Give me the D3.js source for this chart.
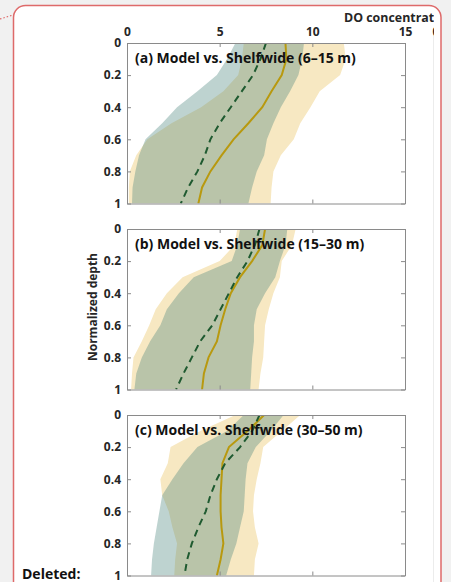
<!DOCTYPE html>
<html><head><meta charset="utf-8">
<script src="https://cdn.jsdelivr.net/npm/d3@7"></script>
<style>
html,body{margin:0;padding:0;background:#f1f1f1;}
svg{display:block;}
text{font-family:"Open Sans","Noto Sans",sans-serif;font-weight:700;}
</style></head><body>
<script>
// ---------- data ----------
const depth = [0,0.1,0.2,0.3,0.4,0.5,0.6,0.7,0.8,0.9,1.0];
const xTicks = [0,5,10,15];
const yTicks = [0,0.2,0.4,0.6,0.8,1];
const yTickLabels = ["0","0.2","0.4","0.6","0.8","1"];
const panelTitles = ["(a) Model vs. Shelfwide (6\u201315 m)","(b) Model vs. Shelfwide (15\u201330 m)","(c) Model vs. Shelfwide (30\u201350 m)"];

// panel (a)
const shelfMeanA = [7.5,7.2,6.8,6.2,5.6,5.0,4.5,4.2,3.8,3.3,2.9];
const shelfLoA   = [5.85,5.4,4.85,3.8,2.7,1.9,1.0,0.65,0.45,0.3,0.27];
const shelfHiA   = [9.55,9.45,9.25,8.8,8.3,7.9,7.55,7.4,7.0,6.75,6.55];
const modelMeanA = [8.55,8.6,8.35,7.8,7.3,6.55,5.75,5.1,4.5,4.05,3.85];
const modelLoA   = [6.3,6.2,6.0,5.2,4.0,2.4,1.1,0.5,0.15,0.1,0.1];
const modelHiA   = [11.7,11.8,11.5,10.4,9.9,9.35,9.0,8.3,7.9,7.8,7.75];

// panel (b)
const shelfMeanB = [7.15,6.9,6.5,5.95,5.5,5.05,4.6,3.95,3.5,3.05,2.65];
const shelfLoB   = [6.1,5.95,5.65,3.6,2.8,2.15,1.8,1.25,0.8,0.5,0.4];
const shelfHiB   = [8.65,8.55,8.25,8.0,7.45,7.0,6.85,6.85,6.75,6.7,6.65];
const modelMeanB = [7.45,7.3,6.75,6.1,5.6,5.3,5.05,4.85,4.4,4.15,4.05];
const modelLoB   = [5.95,5.8,5.0,3.0,2.15,1.55,1.2,0.8,0.35,0.27,0.22];
const modelHiB   = [9.1,8.9,8.35,8.25,7.9,7.65,7.45,7.4,7.35,7.2,7.1];

// panel (c)
const shelfMeanC = [7.15,6.75,6.1,5.3,4.85,4.5,4.25,3.85,3.5,3.25,3.1];
const shelfLoC   = [6.3,5.4,3.8,3.05,2.45,1.9,1.75,1.6,1.45,1.35,1.3];
const shelfHiC   = [8.45,7.75,6.95,6.5,6.4,6.35,6.3,6.1,5.9,5.6,5.35];
const modelMeanC = [7.4,6.5,5.5,5.15,5.1,5.05,5.05,5.1,5.2,5.05,4.85];
const modelLoC   = [5.85,3.95,2.35,2.2,1.8,1.9,2.25,2.45,2.7,2.6,2.55];
const modelHiC   = [9.35,8.35,7.35,7.2,7.0,6.85,6.8,6.9,7.1,6.9,6.85];

const panels = [
  {title:panelTitles[0], sm:shelfMeanA, sl:shelfLoA, sh:shelfHiA, mm:modelMeanA, ml:modelLoA, mh:modelHiA},
  {title:panelTitles[1], sm:shelfMeanB, sl:shelfLoB, sh:shelfHiB, mm:modelMeanB, ml:modelLoB, mh:modelHiB},
  {title:panelTitles[2], sm:shelfMeanC, sl:shelfLoC, sh:shelfHiC, mm:modelMeanC, ml:modelLoC, mh:modelHiC}
];

// ---------- layout ----------
const W = 451, H = 582;
const plotL = 127, plotR = 405;
const panelTops = [43, 229, 415];
const panelH = 160.5;
const axisCol = "#8a8a8a", txtCol = "#262626";

const svg = d3.select("body").append("svg").attr("width",W).attr("height",H);

// comment box
svg.append("rect").attr("x",0).attr("y",0).attr("width",W).attr("height",H).attr("fill","#f1f1f1");
svg.append("rect").attr("x",13.5).attr("y",5.5).attr("width",427.5).attr("height",588)
  .attr("rx",12).attr("ry",12).attr("fill","#ffffff").attr("stroke","#de6a6a").attr("stroke-width",1.5);
svg.append("line").attr("x1",0).attr("y1",19).attr("x2",13).attr("y2",15)
  .attr("stroke","#de6a6a").attr("stroke-width",1.2).attr("stroke-dasharray","1.5,2");
svg.append("line").attr("x1",433.5).attr("x2",433.5).attr("y1",30).attr("y2",H)
  .attr("stroke","#ececec").attr("stroke-width",1);

const defs = svg.append("defs");
defs.append("clipPath").attr("id","docclip").append("rect").attr("x",0).attr("y",0).attr("width",434).attr("height",H);

const x = d3.scaleLinear().domain([0,15]).range([plotL,plotR]);

// x axis label (cut by the comment view)
const doc = svg.append("g").attr("clip-path","url(#docclip)");
doc.append("text").attr("x",344).attr("y",22).attr("font-size",12.4).attr("fill",txtCol).text("DO concentrat");
doc.append("text").attr("x",436).attr("y",36).attr("font-size",12).attr("fill",txtCol).attr("text-anchor","middle").text("0");

// y axis label
svg.append("text").attr("transform","translate(97,307) rotate(-90)").attr("text-anchor","middle")
  .attr("font-size",12).attr("fill",txtCol).text("Normalized depth");

panels.forEach((p,i) => {
  const top = panelTops[i];
  const y = d3.scaleLinear().domain([0,1]).range([top, top+panelH]);
  const g = svg.append("g");
  const cid = "pc"+i;
  defs.append("clipPath").attr("id",cid).append("rect")
    .attr("x",plotL).attr("y",top).attr("width",plotR-plotL).attr("height",panelH);
  const pg = g.append("g").attr("clip-path",`url(#${cid})`);

  const idx = d3.range(depth.length);
  const areaGen = (lo,hi) => d3.area().y(k=>y(depth[k])).x0(k=>x(lo[k])).x1(k=>x(hi[k]));
  const lineGen = (v) => d3.line().y(k=>y(depth[k])).x(k=>x(v[k]));

  pg.append("path").attr("d",areaGen(p.ml,p.mh)(idx)).attr("fill","#f7e8c2");
  pg.append("path").attr("d",areaGen(p.sl,p.sh)(idx)).attr("fill","rgb(75,132,126)").attr("fill-opacity",0.36);
  pg.append("path").attr("d",lineGen(p.mm)(idx)).attr("fill","none").attr("stroke","#b8990f").attr("stroke-width",2);
  pg.append("path").attr("d",lineGen(p.sm)(idx)).attr("fill","none").attr("stroke","#1f5a30").attr("stroke-width",2)
    .attr("stroke-dasharray","7,5");

  // axes (box with inward ticks)
  const axTop = d3.axisTop(x).tickValues(xTicks).tickSizeInner(-4).tickSizeOuter(0)
    .tickFormat(i===0 ? d3.format("d") : ()=>"");
  const gTop = g.append("g").attr("transform",`translate(0,${top})`).call(axTop);
  const axBot = d3.axisBottom(x).tickValues(xTicks).tickSizeInner(-4).tickSizeOuter(0).tickFormat(()=>"");
  const gBot = g.append("g").attr("transform",`translate(0,${top+panelH})`).call(axBot);
  const axL = d3.axisLeft(y).tickValues(yTicks).tickSizeInner(-4).tickSizeOuter(0)
    .tickFormat((d,k)=>yTickLabels[k]);
  const gL = g.append("g").attr("transform",`translate(${plotL},0)`).call(axL);
  const axR = d3.axisRight(y).tickValues(yTicks).tickSizeInner(-4).tickSizeOuter(0).tickFormat(()=>"");
  const gR = g.append("g").attr("transform",`translate(${plotR},0)`).call(axR);

  [gTop,gBot,gL,gR].forEach(a=>{
    a.select(".domain").attr("stroke",axisCol);
    a.selectAll(".tick line").attr("stroke",axisCol);
    a.selectAll(".tick text").attr("fill",txtCol).attr("font-size",12)
      .attr("font-family","'Open Sans','Noto Sans',sans-serif").attr("font-weight",700);
  });
  gTop.selectAll(".tick text").attr("y",-7).attr("dy",0);
  gL.selectAll(".tick text").attr("x",-6);

  g.append("text").attr("x",135).attr("y",top+20).attr("font-size",14).attr("fill","#111")
    .text(p.title);
});

svg.append("text").attr("x",22).attr("y",579).attr("font-size",14).attr("fill","#111").text("Deleted:");
</script>
</body></html>
